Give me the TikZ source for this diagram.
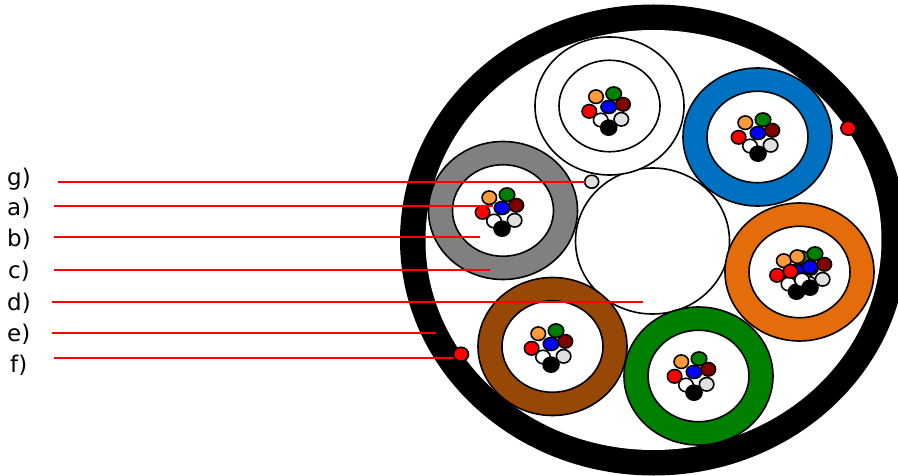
\documentclass[tikz,border=0pt]{standalone}
\usepackage{fontspec}
\setmainfont{DejaVu Sans}
\usetikzlibrary{shapes.geometric}

\definecolor{tubeblue}{HTML}{0070C0}
\definecolor{tubegray}{HTML}{808080}
\definecolor{tubeorange}{HTML}{E46C0A}
\definecolor{tubebrown}{HTML}{974806}
\definecolor{tubegreen}{HTML}{008000}
\definecolor{fiberorange}{HTML}{FF9A3C}
\definecolor{fiberdark}{HTML}{800000}
\definecolor{fibergray}{HTML}{E0E0E0}

\tikzset{
  tube/.style={ellipse,draw=black,line width=1.6pt,inner sep=0pt,outer sep=0pt,minimum width=149pt,minimum height=138pt},
  bore/.style={ellipse,draw=black,line width=1.6pt,fill=white,inner sep=0pt,outer sep=0pt,minimum width=101pt,minimum height=91.5pt},
  fiber/.style={ellipse,draw=black,line width=1.6pt,inner sep=0pt,outer sep=0pt,minimum width=14.5pt,minimum height=13.5pt},
  shell/.style={ellipse,fill=black,inner sep=0pt,outer sep=0pt},
  leader/.style={draw=red,line width=1.9pt},
  lbl/.style={anchor=base west,inner sep=0pt,font=\fontsize{23}{27}\selectfont}
}

% one bundle of fibers, #1 is the position of its blue fiber
\newcommand{\fibers}[2]{
\begin{scope}[shift={(#1)}]
\node[fiber,fill=white] (#2w) at (-8,13) {};
\node[fiber,fill=fibergray] (#2g) at (12.6,12.3) {};
\node[fiber,fill=black,minimum width=16pt,minimum height=15pt] (#2k) at (0,20.7) {};
\node[fiber,fill=fiberorange] (#2o) at (-12.7,-10.3) {};
\node[fiber,fill=tubegreen,minimum width=15.5pt] (#2n) at (5,-13.3) {};
\node[fiber,fill=fiberdark] (#2d) at (14.3,-2.7) {};
\node[fiber,fill=red] (#2r) at (-19.4,4.3) {};
\node[fiber,fill=blue,minimum width=15.5pt,minimum height=13pt] (#2b) at (0,0) {};
\end{scope}
}

\begin{document}
\begin{tikzpicture}[x=1pt,y=-1pt]
\useasboundingbox (0,0) rectangle (898,476);

% cable sheath
\node[shell,minimum width=507pt,minimum height=471pt] (sheath) at (653.5,240) {};
\node[shell,fill=white,minimum width=456pt,minimum height=420pt] (inside) at (653.5,240) {};

% center member
\node[tube,fill=white,minimum width=154pt,minimum height=146pt] (center) at (652.5,241) {};

% loose tubes
\foreach \name/\col/\x/\y in {white/white/609.5/106, blue/tubeblue/757.5/137, gray/tubegray/503/210.5, orange/tubeorange/799.5/272, brown/tubebrown/552.5/346.5, green/tubegreen/698.5/376}{
  \node[tube,fill=\col] (\name) at (\x,\y) {};
  \node[bore] (\name bore) at (\x,\y) {};
}

\fibers{608.7,107}{fa}
\fibers{758,133}{fb}
\fibers{502,208}{fc}
\fibers{551,344}{fd}
\fibers{694,372}{fe}
\fibers{796.5,271}{ff}
\fibers{810,267}{fh}

% labels and leaders
\foreach \name/\lx/\by/\sx/\ly/\ex in {a/7/215.5/54/206/493, b/7/246.5/54/237.3/480, c/8/278.5/54/269.7/490, d/7/310/52/302.3/642.7, e/7/341/52/333.3/435.7}{
  \node[lbl] (lbl\name) at (\lx,\by) {\name)};
  \coordinate (s\name) at (\sx,\ly);
  \coordinate (e\name) at (\ex,\ly);
  \draw[leader] (s\name) -- (e\name);
}
\node[lbl] (lblg) at (7,185.5) {g)};
\node[lbl] (lblf) at (10,372) {f)};
\coordinate (sg) at (58,181.7);
\coordinate (sf) at (54,358.3);

\node[fiber,fill=fibergray,minimum width=14pt,minimum height=13pt] (gdot) at (591.7,181.7) {};
\draw[leader] (sg) -- (gdot);

% ripcords
\node[fiber,fill=red,minimum width=15pt,minimum height=14pt] (rip) at (848.4,128.2) {};
\draw[leader] (sf) -- (461,358.3);
\node[fiber,fill=red,minimum width=15pt,minimum height=14pt] (fdot) at (461,354.3) {};

\end{tikzpicture}
\end{document}
